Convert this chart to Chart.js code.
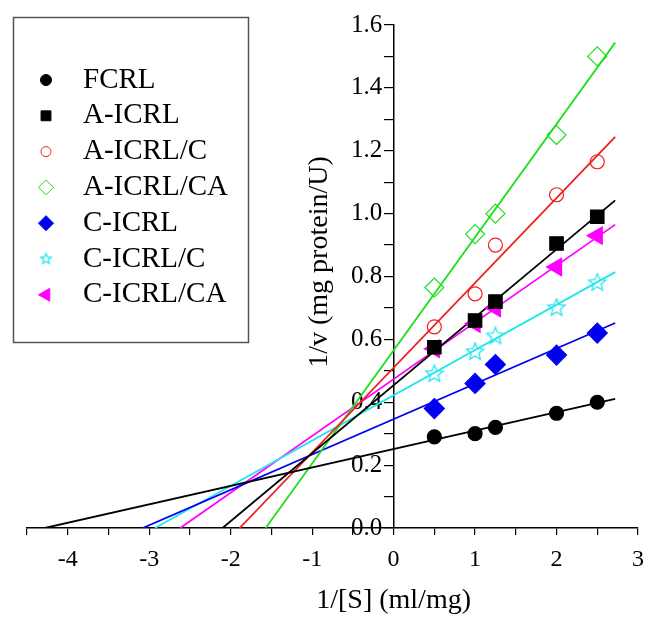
<!DOCTYPE html>
<html>
<head>
<meta charset="utf-8">
<script src="https://cdn.jsdelivr.net/npm/chart.js@4/dist/chart.umd.min.js"></script>
<style>
  body { margin: 0; background: #fff; }
  canvas { display: block; }
</style>
</head>
<body>
<canvas id="chart" width="654" height="617"></canvas>
<script>
// 1/[S] values where the rates were measured
const xValues = [0.5, 1, 1.25, 2, 2.5];

// 1/v for each sample
const fcrl    = [0.29, 0.30, 0.32, 0.365, 0.40];
const aIcrl   = [0.575, 0.66, 0.72, 0.905, 0.99];
const aIcrlC  = [0.64, 0.745, 0.90, 1.06, 1.165];
const aIcrlCA = [0.765, 0.935, 1.0, 1.25, 1.50];
const cIcrl   = [0.38, 0.46, 0.52, 0.55, 0.62];
const cIcrlC  = [0.49, 0.56, 0.61, 0.70, 0.78];
const cIcrlCA = [0.57, 0.65, 0.70, 0.83, 0.93];

const names = ['FCRL', 'A-ICRL', 'A-ICRL/C', 'A-ICRL/CA', 'C-ICRL', 'C-ICRL/C', 'C-ICRL/CA'];
const series = [fcrl, aIcrl, aIcrlC, aIcrlCA, cIcrl, cIcrlC, cIcrlCA];

// fitted lines: x where they cross y = 0, and their value at the right end
const fitStartX = [-4.28, -2.10, -1.89, -1.57, -3.08, -2.93, -2.62];
const fitEndX = 2.72;
const fitEndY = [0.411, 1.042, 1.244, 1.544, 0.652, 0.814, 0.965];

const xTitle = '1/[S] (ml/mg)';
const yTitle = '1/v (mg protein/U)';

const colors = ['#000000', '#000000', '#ee2020', '#22dd22', '#0000ee', '#22e6ee', '#ff00ff'];
const FONT = '"Liberation Serif", "Times New Roman", serif';

function starCanvas(size, color) {
  const c = document.createElement('canvas');
  c.width = size + 4; c.height = size + 4;
  const g = c.getContext('2d');
  const cx = c.width / 2, cy = c.height / 2, ro = size / 2, ri = ro * 0.45;
  g.beginPath();
  for (let i = 0; i < 10; i++) {
    const r = i % 2 ? ri : ro;
    const a = -Math.PI / 2 + i * Math.PI / 5;
    g.lineTo(cx + r * Math.cos(a), cy + r * Math.sin(a));
  }
  g.closePath();
  g.strokeStyle = color; g.lineWidth = 1.3; g.stroke();
  return c;
}

const bigStar = starCanvas(18, colors[5]);
const smallStar = starCanvas(11, colors[5]);

// marker styles: chart size and legend size
const markers = [
  { style: 'circle', r: 7, fill: true, legendR: 5.5 },
  { style: 'rect', r: 9.5, fill: true, legendR: 7 },
  { style: 'circle', r: 7, fill: false, legendR: 5 },
  { style: 'rectRot', r: 9.5, fill: false, legendR: 7.5 },
  { style: 'rectRot', r: 10, fill: true, legendR: 7.5 },
  { style: bigStar, r: 9, fill: false, legendStyle: smallStar, legendR: 6 },
  { style: 'triangle', r: 10, fill: true, rotation: -90, legendR: 7.5 }
];

const datasets = [];
series.forEach((vals, i) => {
  const m = markers[i];
  datasets.push({
    label: names[i],
    data: xValues.map((x, j) => ({ x: x, y: vals[j] })),
    showLine: false,
    pointStyle: m.style,
    pointRadius: m.r,
    pointRotation: m.rotation || 0,
    pointBackgroundColor: m.fill ? colors[i] : 'rgba(0,0,0,0)',
    pointBorderColor: colors[i],
    pointBorderWidth: 1.2,
    clip: false,
    order: 1
  });
  datasets.push({
    label: names[i] + ' fit',
    type: 'line',
    data: [{ x: fitStartX[i], y: 0 }, { x: fitEndX, y: fitEndY[i] }],
    borderColor: colors[i],
    borderWidth: 1.8,
    pointRadius: 0,
    fill: false,
    order: 2
  });
});

const overlay = {
  id: 'overlay',
  afterDraw(chart) {
    const { ctx, scales: { x, y } } = chart;
    ctx.save();
    ctx.fillStyle = '#000';
    ctx.font = '28px ' + FONT;
    ctx.textAlign = 'center';
    ctx.textBaseline = 'middle';
    ctx.fillText(xTitle, x.getPixelForValue(0), 601);
    ctx.save();
    ctx.translate(320, 262);
    ctx.rotate(-Math.PI / 2);
    ctx.fillText(yTitle, 0, 0);
    ctx.restore();

    // legend box
    ctx.strokeStyle = '#555';
    ctx.lineWidth = 1.5;
    ctx.strokeRect(13.5, 17.5, 235, 325);
    ctx.font = '29px ' + FONT;
    ctx.textAlign = 'left';
    names.forEach((name, i) => {
      const m = markers[i];
      const cy = 80 + i * 35.8;
      ctx.fillStyle = m.fill ? colors[i] : '#fff';
      ctx.strokeStyle = colors[i];
      ctx.lineWidth = 1;
      Chart.helpers.drawPoint(ctx, {
        pointStyle: m.legendStyle || m.style,
        radius: m.legendR,
        rotation: m.rotation || 0,
        borderWidth: 1
      }, 46, cy);
      ctx.fillStyle = '#000';
      ctx.fillText(name, 83, cy);
    });
    ctx.restore();
  }
};

new Chart(document.getElementById('chart'), {
  type: 'scatter',
  data: { datasets: datasets },
  options: {
    responsive: false,
    animation: false,
    devicePixelRatio: 1,
    layout: { autoPadding: false, padding: { left: 27, right: 7, top: 25, bottom: 0 } },
    plugins: { legend: { display: false }, tooltip: { enabled: false } },
    scales: {
      x: {
        type: 'linear',
        position: 'bottom',
        min: -4.5,
        max: 3,
        afterFit(scale) { scale.height = 89; },
        border: { color: '#000', width: 1.5 },
        grid: { drawOnChartArea: false, drawTicks: true, tickLength: 7, color: '#000', lineWidth: 1.2 },
        ticks: {
          stepSize: 0.5,
          autoSkip: false,
          maxRotation: 0,
          padding: 10,
          color: '#000',
          font: { family: FONT, size: 24 },
          callback: v => Number.isInteger(v) ? String(v) : ''
        }
      },
      y: {
        type: 'linear',
        position: { x: 0 },
        min: 0,
        max: 1.6,
        border: { color: '#000', width: 1.5 },
        grid: { drawOnChartArea: false, drawTicks: true, tickLength: 9, color: '#000', lineWidth: 1.2 },
        ticks: {
          stepSize: 0.1,
          autoSkip: false,
          color: '#000',
          font: { family: FONT, size: 25 },
          // a y axis placed at x = 0 ignores ticks.padding, so the label
          // text carries its own gap from the tick marks
          callback: v => Math.round(v * 10) % 2 === 0 ? v.toFixed(1) + ' \u2009' : ''
        }
      }
    }
  },
  plugins: [overlay]
});
</script>
</body>
</html>
